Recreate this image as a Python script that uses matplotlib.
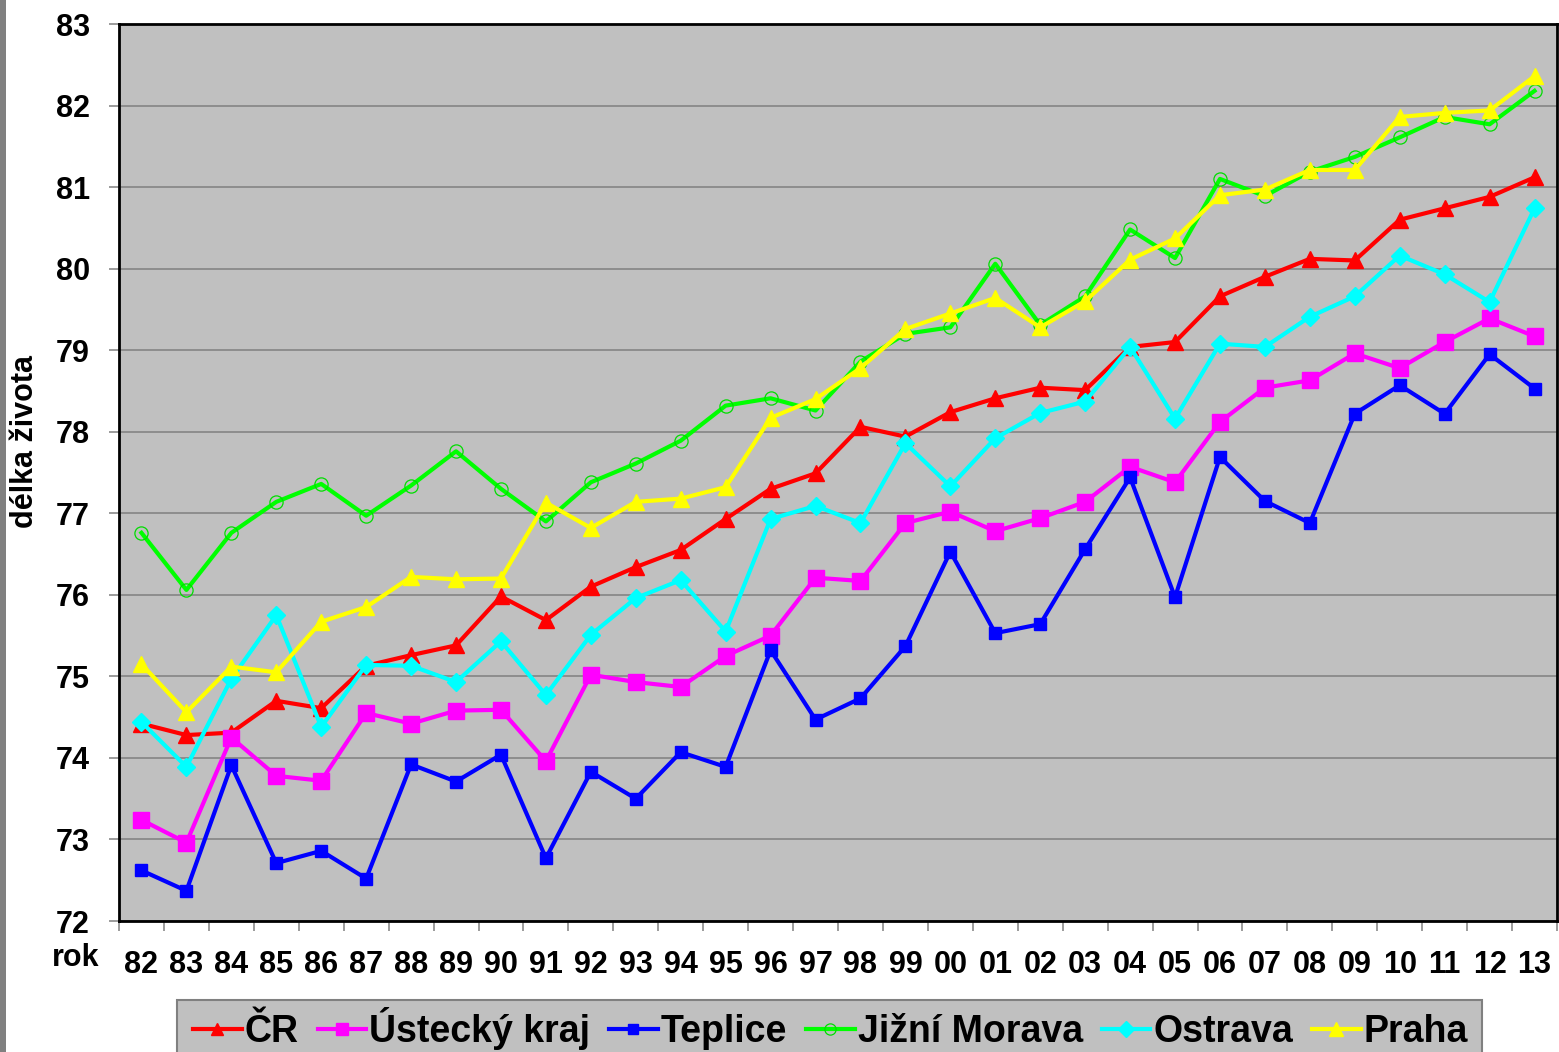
import numpy as np
import matplotlib
matplotlib.use("Agg")
import matplotlib.pyplot as plt
from matplotlib.patches import Rectangle

plt.rcParams['font.family'] = ['Liberation Sans', 'DejaVu Sans']

# roky 1982 - 2013
roky = ['82', '83', '84', '85', '86', '87', '88', '89', '90', '91', '92', '93',
        '94', '95', '96', '97', '98', '99', '00', '01', '02', '03', '04', '05',
        '06', '07', '08', '09', '10', '11', '12', '13']

cr = [74.42, 74.28, 74.31, 74.70, 74.61, 75.13, 75.26, 75.38, 75.98, 75.69,
      76.10, 76.34, 76.55, 76.93, 77.30, 77.49, 78.06, 77.94, 78.24, 78.41,
      78.54, 78.51, 79.04, 79.10, 79.66, 79.90, 80.12, 80.10, 80.60, 80.74,
      80.88, 81.12]
ustecky = [73.24, 72.96, 74.25, 73.78, 73.72, 74.55, 74.42, 74.58, 74.59, 73.96,
           75.02, 74.93, 74.87, 75.25, 75.50, 76.21, 76.17, 76.88, 77.02, 76.78,
           76.94, 77.14, 77.57, 77.38, 78.12, 78.54, 78.63, 78.96, 78.78, 79.10,
           79.39, 79.17]
teplice = [72.62, 72.37, 73.91, 72.71, 72.86, 72.52, 73.92, 73.71, 74.04, 72.77,
           73.83, 73.50, 74.07, 73.89, 75.32, 74.47, 74.73, 75.37, 76.53, 75.53,
           75.64, 76.56, 77.44, 75.97, 77.69, 77.15, 76.88, 78.22, 78.57, 78.22,
           78.95, 78.53]
jizni_morava = [76.76, 76.06, 76.76, 77.14, 77.36, 76.97, 77.34, 77.76, 77.30, 76.90,
                77.38, 77.61, 77.89, 78.32, 78.41, 78.26, 78.86, 79.20, 79.28, 80.06,
                79.31, 79.66, 80.48, 80.13, 81.10, 80.89, 81.19, 81.37, 81.61, 81.86,
                81.77, 82.18]
ostrava = [74.44, 73.89, 74.97, 75.75, 74.38, 75.14, 75.13, 74.93, 75.43, 74.77,
           75.51, 75.96, 76.18, 75.55, 76.93, 77.09, 76.88, 77.86, 77.33, 77.92,
           78.23, 78.37, 79.04, 78.16, 79.08, 79.04, 79.41, 79.66, 80.16, 79.93,
           79.59, 80.74]
praha = [75.15, 74.56, 75.12, 75.05, 75.67, 75.85, 76.22, 76.19, 76.20, 77.13,
         76.82, 77.14, 77.18, 77.32, 78.17, 78.40, 78.78, 79.26, 79.45, 79.64,
         79.28, 79.60, 80.11, 80.37, 80.90, 80.97, 81.21, 81.21, 81.86, 81.91,
         81.94, 82.36]

x = np.arange(len(roky))

W, H = 1559, 1052
fig = plt.figure(figsize=(W / 100, H / 100), dpi=100)
fig.patch.set_facecolor('white')
# sedy pruh vlevo
fig.patches.append(Rectangle((0, 0), 6 / W, 1, transform=fig.transFigure,
                             facecolor='#808080', edgecolor='none'))
# ramecek legendy (dole oriznuty)
fig.patches.append(Rectangle((177 / W, -0.02), (1482 - 177) / W, 0.02 + 1 - 1000 / H,
                             transform=fig.transFigure, facecolor='#C0C0C0',
                             edgecolor='#808080', lw=1.5))

ax = fig.add_axes([119 / W, 1 - 921 / H, (1557 - 119) / W, (921 - 24) / H])
ax.set_facecolor('#C0C0C0')

lw = 3
ax.plot(x, cr, color='#FF0000', lw=lw, marker='^', ms=11, label='ČR')
ax.plot(x, ustecky, color='#FF00FF', lw=lw, marker='s', ms=11, label='Ústecký kraj')
ax.plot(x, teplice, color='#0000FF', lw=lw, marker='s', ms=9, label='Teplice')
ax.plot(x, jizni_morava, color='#00FF00', lw=lw, marker='o', ms=9.5,
        mfc='none', mec='#00DD00', mew=0.9, label='Jižní Morava')
ax.plot(x, ostrava, color='#00FFFF', lw=lw, marker='D', ms=9, label='Ostrava')
ax.plot(x, praha, color='#FFFF00', lw=lw, marker='^', ms=12, label='Praha')

ax.set_xlim(-0.5, len(roky) - 0.5)
ax.set_ylim(72, 83)
ax.set_yticks(range(72, 84))
ax.yaxis.grid(True, color='#808080', lw=1.1)
ax.set_axisbelow(True)

ax.set_xticks(x)
ax.set_xticklabels(roky, fontsize=22, fontweight='bold')
ax.set_xticks(np.arange(-0.5, len(roky)), minor=True)
ax.tick_params(axis='x', which='major', length=0, pad=21)
ax.tick_params(axis='x', which='minor', length=7, width=1.1, color='#808080', direction='out')
ax.tick_params(axis='y', length=7, width=1.1, color='#808080', pad=14, labelsize=22)
for lab in ax.get_yticklabels():
    lab.set_fontweight('bold')

for s in ax.spines.values():
    s.set_color('black')
    s.set_linewidth(2)

fig.text(25 / W, 1 - 442 / H, 'délka života', rotation=90, ha='center', va='center',
         fontsize=22, fontweight='bold')
fig.text(76 / W, 1 - 958 / H, 'rok', ha='center', va='center',
         fontsize=22, fontweight='bold')

leg = fig.legend(loc='center left', bbox_to_anchor=(193 / W, 1 - 1029 / H),
                 bbox_transform=fig.transFigure, borderaxespad=0, borderpad=0, ncol=6,
                 prop={'size': 27, 'weight': 'bold'}, handlelength=1.3,
                 handletextpad=0.08, columnspacing=0.5,
                 markerscale=0.85, frameon=False)

fig.savefig('out.png', dpi=100)
